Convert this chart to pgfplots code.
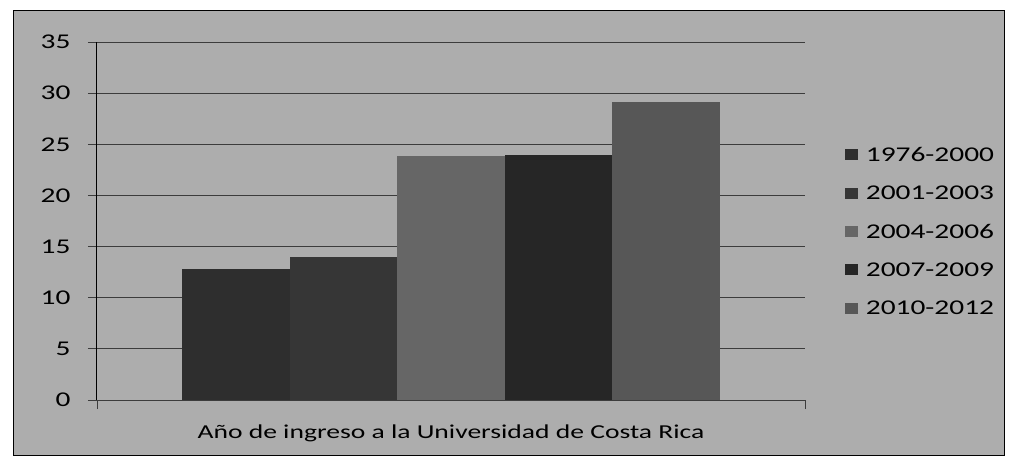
\documentclass[border=0pt]{standalone}
\usepackage{fontspec}
\setmainfont[FakeStretch=1.4]{Carlito}
\usepackage{pgfplots}
\pgfplotsset{compat=1.18}
\definecolor{bgc}{HTML}{ADADAD}
\definecolor{cA}{HTML}{2E2E2E}
\definecolor{cB}{HTML}{363636}
\definecolor{cC}{HTML}{666666}
\definecolor{cD}{HTML}{262626}
\definecolor{cE}{HTML}{575757}
\definecolor{gridc}{HTML}{3C3C3C}
\begin{document}
\begin{tikzpicture}[x=1pt,y=1pt]
\fill[white] (0,0) rectangle (1013,467);
\filldraw[fill=bgc, draw=black, line width=1pt] (13,12) rectangle (1004,456);
\begin{axis}[
  at={(97pt,67pt)}, anchor=south west, scale only axis,
  width=708pt, height=358pt,
  xmin=-0.5, xmax=0.5, ymin=0, ymax=35,
  ytick={0,5,...,35},
  xtick={-0.5,0.5}, xticklabels={},
  axis x line=bottom, axis y line=left,
  axis line style={-, black, line width=1pt},
  x axis line style={gridc},
  tick align=outside, major tick length=9pt,
  tick style={gridc, line width=0.8pt},
  ymajorgrids, grid style={gridc, line width=0.8pt},
  /pgf/number format/assume math mode=true,
  yticklabel style={font=\fontsize{21}{25}\selectfont, xshift=-14pt},
  xlabel={Año de ingreso a la Universidad de Costa Rica},
  xlabel style={font=\fontsize{19.7}{24}\selectfont, at={(axis description cs:0.5,0)}, anchor=center, yshift=-33pt},
  ybar=0pt, bar width=107.6pt,
  legend style={at={(rel axis cs:1.056,0.47)}, anchor=west, draw=none, fill=none,
    font=\fontsize{21}{25}\selectfont, row sep=19pt, inner sep=0pt},
  legend cell align=left,
  legend image code/.code={\fill[#1] (0pt,-5pt) rectangle (13pt,6pt); \path (19pt,0pt);},
]
\addplot[fill=cA, draw=none] coordinates {(0,12.8)};
\addplot[fill=cB, draw=none] coordinates {(0,14.0)};
\addplot[fill=cC, draw=none] coordinates {(0,23.9)};
\addplot[fill=cD, draw=none] coordinates {(0,24.0)};
\addplot[fill=cE, draw=none] coordinates {(0,29.1)};
\legend{1976-2000,2001-2003,2004-2006,2007-2009,2010-2012}
\end{axis}
\end{tikzpicture}
\end{document}
